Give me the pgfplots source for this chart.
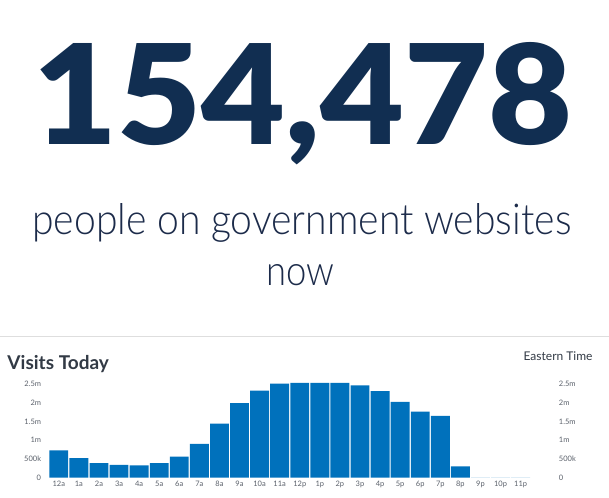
\documentclass[border=0pt]{standalone}
\usepackage{pgfplots}
\pgfplotsset{compat=1.18}
\usepackage{fontspec}
\usepackage{graphicx}
\setmainfont{Lato}
\newfontfamily\blackfont{Lato Black}
\newfontfamily\lightfont{Lato Light}
\definecolor{navy}{HTML}{112E51}
\definecolor{subcol}{HTML}{1C2B4A}
\definecolor{barblue}{HTML}{0071BC}
\definecolor{ticktxt}{HTML}{5B616B}
\definecolor{headcol}{HTML}{323A45}
\begin{document}
\begin{tikzpicture}
\useasboundingbox (0,0) rectangle (609bp,-498bp);
\fill[white] (0,0) rectangle (609bp,-498bp);
\node[anchor=base west, inner sep=0, text=navy] at (33bp,-144bp) {\resizebox{539bp}{102bp}{\blackfont 154,478}};
\node[anchor=base west, inner sep=0, text=subcol] at (32bp,-234bp) {\resizebox{539bp}{31bp}{\lightfont people on government websites}};
\node[anchor=base, inner sep=0, text=subcol] at (300bp,-285bp) {\resizebox{68bp}{21bp}{\lightfont now}};
\draw[color=black!13, line width=1bp] (0,-336.5bp) -- (609bp,-336.5bp);
\node[anchor=base west, inner sep=0, text=headcol] at (7.3bp,-369.3bp) {\fontsize{19bp}{22bp}\selectfont\bfseries Visits Today};
\node[anchor=base east, inner sep=0, text=headcol] at (592.7bp,-360.7bp) {\fontsize{12bp}{14bp}\selectfont Eastern Time};
\begin{axis}[
  at={(48.76bp,-477.7bp)}, anchor=south west,
  scale only axis, width=502bp, height=97.5bp,
  xmin=-0.5, xmax=24.5, ymin=0, ymax=2.6,
  axis line style={draw=none},
  major tick length=0,
  /pgf/number format/assume math mode=true,
  ytick={0,0.5,1,1.5,2,2.5},
  yticklabels={0,500k,1m,1.5m,2m,2.5m},
  yticklabel style={font=\fontsize{7.5bp}{8bp}\selectfont, text=ticktxt, anchor=east, inner sep=0pt, xshift=-7.5bp},
  xtick={0,...,23},
  xticklabels={12a,1a,2a,3a,4a,5a,6a,7a,8a,9a,10a,11a,12p,1p,2p,3p,4p,5p,6p,7p,8p,9p,10p,11p},
  xticklabel style={font=\fontsize{7.5bp}{8bp}\selectfont, text=ticktxt, anchor=north, inner sep=0pt, yshift=-3.5bp},
  ybar, bar width=0.94,
]
\addplot[fill=barblue, draw=none] coordinates {
(0,0.73) (1,0.525) (2,0.39) (3,0.34) (4,0.33) (5,0.39) (6,0.56) (7,0.90)
(8,1.44) (9,1.99) (10,2.32) (11,2.51) (12,2.53) (13,2.53) (14,2.53) (15,2.46)
(16,2.31) (17,2.02) (18,1.76) (19,1.65) (20,0.30) (21,0) (22,0) (23,0)};
\end{axis}
\begin{axis}[
  at={(48.76bp,-477.7bp)}, anchor=south west,
  scale only axis, width=502bp, height=97.5bp,
  xmin=-0.5, xmax=24.5, ymin=0, ymax=2.6,
  axis line style={draw=none},
  major tick length=0,
  /pgf/number format/assume math mode=true,
  xtick=\empty,
  ytick={0,0.5,1,1.5,2,2.5},
  yticklabels={0,500k,1m,1.5m,2m,2.5m},
  yticklabel pos=right,
  yticklabel style={font=\fontsize{7.5bp}{8bp}\selectfont, text=ticktxt, anchor=west, inner sep=0pt, xshift=8bp},
]
\end{axis}
\end{tikzpicture}
\end{document}
